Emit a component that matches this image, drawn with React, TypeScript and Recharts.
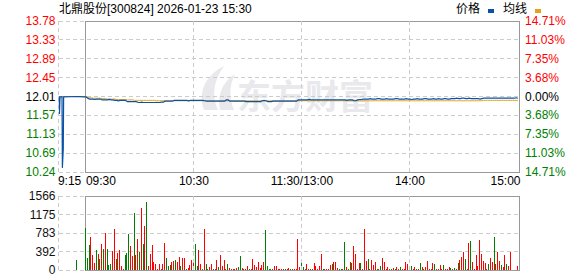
import React from 'react';
import { ComposedChart, Line, Bar, XAxis, YAxis, CartesianGrid, ReferenceArea, ReferenceLine } from 'recharts';

const TITLE = '北鼎股份[300824] 2026-01-23 15:30';
const LEGEND_PRICE = '价格';
const LEGEND_AVG = '均线';
const WATERMARK = '东方财富';
const PREV_CLOSE = 12.01;

const priceTicks = [10.243, 10.685, 11.127, 11.568, 12.01, 12.452, 12.893, 13.335, 13.777];
const priceTickLabels = ['10.24', '10.69', '11.13', '11.57', '12.01', '12.45', '12.89', '13.33', '13.78'];
const pctTickLabels = ['14.71%', '11.03%', '7.35%', '3.68%', '0.00%', '3.68%', '7.35%', '11.03%', '14.71%'];
const volTicks = [0, 391.5, 783, 1174.5, 1566];
const volTickLabels = ['0', '392', '783', '1175', '1566'];
const timeTicks = [-15, 0, 60, 120, 180, 240];
const timeTickLabels = ['9:15', '09:30', '10:30', '11:30/13:00', '14:00', '15:00'];
const gridTimes = [-15.25, 60, 120, 180];

// pre-market (call auction) points, minutes relative to 09:30
const preTimes = [-15, -14.7, -14.4, -13.3, -13.1, -12.6, -12.4, -5];
const prePrices = [12.01, 11.6, 12.0, 12.0, 10.34, 10.77, 12.0, 12.01];
const preAvg = [12.01, 12.01, 12.01, 12.01, 12.01, 12.01, 12.01, 12.01];
const preVolTimes = [-5];
const preVolumes = [218];
const preVolDir = ['g'];

// minute prices 09:30 .. 15:00 (241 points)
const price = [
  12.0, 11.97,
  11.95, 11.95, 11.95, 11.94, 11.95, 11.95, 11.95,
  11.93, 11.93, 11.93, 11.93, 11.94, 11.93, 11.93,
  11.92, 11.92, 11.91, 11.92, 11.92, 11.92, 11.92,
  11.89, 11.89, 11.89, 11.89, 11.89, 11.89,
  11.87, 11.87, 11.88, 11.87, 11.87, 11.87, 11.87, 11.87, 11.87, 11.87, 11.87, 11.87, 11.87, 11.88, 11.88,
  11.9, 11.9, 11.9, 11.9, 11.9,
  11.92, 11.92, 11.92, 11.92, 11.92, 11.92, 11.92, 11.92, 11.91, 11.92, 11.92, 11.92, 11.92, 11.92, 11.92, 11.92, 11.92, 11.91,
  11.9, 11.9, 11.9, 11.9, 11.9, 11.9, 11.9, 11.9, 11.9, 11.9, 11.9,
  11.93, 11.93,
  11.9, 11.9, 11.9, 11.9, 11.9, 11.9, 11.9, 11.9, 11.9,
  11.89, 11.89, 11.89, 11.89, 11.89, 11.89, 11.89, 11.89, 11.89,
  11.91, 11.92, 11.91,
  11.89, 11.89, 11.89,
  11.9, 11.9, 11.9, 11.9, 11.9, 11.9, 11.9, 11.9, 11.9, 11.9, 11.9, 11.9, 11.9,
  11.9, 11.93, 11.93, 11.93,
  11.93, 11.93, 11.93, 11.94, 11.93, 11.93, 11.93, 11.93, 11.93, 11.93, 11.93,
  11.93, 11.93, 11.93, 11.93, 11.93, 11.93, 11.93, 11.93, 11.93, 11.93, 11.93,
  11.93, 11.93, 11.92, 11.93, 11.93, 11.93,
  11.91, 11.91,
  11.93, 11.94, 11.94, 11.95, 11.95,
  11.95, 11.95, 11.96, 11.95, 11.95, 11.95, 11.96, 11.96, 11.95, 11.95,
  11.95, 11.96, 11.95, 11.95, 11.95, 11.95, 11.96, 11.96, 11.95, 11.95,
  11.95, 11.95, 11.96, 11.95, 11.95, 11.94, 11.95, 11.95, 11.96, 11.95,
  11.95, 11.95, 11.96, 11.96, 11.95, 11.95, 11.95, 11.96, 11.95, 11.95,
  11.96, 11.95, 11.95, 11.96, 11.96, 11.95, 11.95, 11.96, 11.96, 11.96,
  11.97, 11.96, 11.96, 11.97, 11.97, 11.96, 11.96, 11.97, 11.96, 11.96,
  11.96, 11.96, 11.96, 11.95, 11.96,
  11.97, 11.97, 11.97, 11.97, 11.97, 11.97, 11.97, 11.97, 11.97, 11.97,
  11.97, 11.97, 11.97, 11.97, 11.97, 11.97, 11.97, 11.97, 11.98, 11.97,
];

// average price line (241 points)
const avg = [
  12.0,
  11.99, 11.98, 11.98, 11.97, 11.97, 11.97, 11.97, 11.97,
  11.96, 11.96, 11.96, 11.95, 11.95, 11.95, 11.95, 11.95, 11.94, 11.94, 11.94, 11.94, 11.94, 11.94,
  11.93, 11.93, 11.93, 11.93, 11.92, 11.92, 11.92, 11.92, 11.92, 11.92, 11.92, 11.92, 11.92, 11.92, 11.92, 11.92,
  11.91, 11.91, 11.91, 11.91, 11.91, 11.91, 11.91, 11.91, 11.91, 11.91,
  11.91, 11.91, 11.91, 11.91, 11.91, 11.91, 11.91, 11.91, 11.91, 11.91,
  11.91, 11.91, 11.91, 11.91, 11.91, 11.91, 11.91, 11.91, 11.91, 11.91,
  11.91, 11.91, 11.91, 11.91, 11.91, 11.91, 11.91, 11.91, 11.91, 11.91,
  11.91, 11.91, 11.91, 11.91, 11.91, 11.91, 11.91, 11.91, 11.91, 11.91,
  11.91, 11.91, 11.91, 11.91, 11.91, 11.91, 11.91, 11.91, 11.91, 11.91,
  11.91, 11.91, 11.91, 11.91, 11.91, 11.91, 11.91, 11.91, 11.91, 11.91,
  11.91, 11.91, 11.91, 11.91, 11.91, 11.91, 11.91, 11.91, 11.91, 11.91,
  11.91, 11.91, 11.91, 11.91, 11.91, 11.91, 11.91, 11.91, 11.91, 11.91,
  11.91, 11.91, 11.91, 11.91, 11.91, 11.91, 11.91, 11.91, 11.91, 11.91,
  11.91, 11.91, 11.91, 11.91, 11.91, 11.91, 11.91, 11.91, 11.91, 11.91,
  11.91, 11.91, 11.91, 11.91, 11.91, 11.91, 11.91, 11.91, 11.91, 11.91,
  11.91, 11.91, 11.91, 11.91, 11.91, 11.91, 11.91, 11.91, 11.91, 11.91,
  11.91, 11.91, 11.91, 11.91, 11.91, 11.91, 11.91, 11.91, 11.91, 11.91,
  11.91, 11.91, 11.91, 11.91, 11.91, 11.91, 11.91, 11.91, 11.91, 11.91,
  11.91, 11.91, 11.91, 11.91, 11.91, 11.91, 11.91, 11.91, 11.91, 11.91,
  11.91, 11.91, 11.91, 11.91, 11.91, 11.91, 11.91, 11.91, 11.91, 11.91,
  11.91, 11.91, 11.91, 11.91, 11.91, 11.91, 11.91, 11.91, 11.91, 11.91,
  11.91, 11.91,
  11.92, 11.92, 11.92, 11.92, 11.92, 11.92, 11.92, 11.92, 11.92, 11.92,
  11.92, 11.92, 11.92, 11.92, 11.92, 11.92, 11.92, 11.92, 11.92, 11.92,
];

// minute volumes (241 points)
const volume = [
  895, 261, 536, 705, 324, 155, 430, 345, 240, 557,
  451, 790, 451, 99, 120, 409, 874, 240, 367, 430,
  92, 28, 324, 367, 768, 515, 303, 1213, 324, 663,
  388, 1318, 557, 938, 1445, 92, 345, 536, 176, 134,
  28, 134, 28, 134, 578, 261, 92, 113, 176, 197,
  218,
  176, 282, 92, 261, 261, 28, 49, 113, 218, 240,
  557, 92, 430, 134, 28, 874, 134, 28, 70, 134,
  28, 28, 218, 70, 324, 92, 218, 28, 134, 49,
  28, 28, 28, 49, 70, 303, 49, 28, 28, 92,
  28, 28, 240, 113, 70, 176, 49, 113, 176, 853,
  92, 28, 28, 28, 92, 92, 28, 28, 28, 28,
  28, 28, 49, 28, 28, 28,
  28,
  663, 70, 155, 70, 28, 134, 28, 28, 28, 155,
  92, 28, 92, 345, 28, 28, 28, 28, 113, 134,
  176, 176, 49, 28, 28, 28, 599, 70, 28, 176,
  155, 515, 345, 28, 155, 155, 28, 874, 197, 240,
  28, 218, 113, 176, 28, 28, 92, 261, 176, 28,
  70, 28, 28, 49, 28, 70, 28, 70, 28, 28,
  176, 134, 70, 92, 28, 70,
  28,
  28, 155, 70, 28, 70, 197, 28, 28, 155, 134,
  28, 28, 113, 28, 113, 28, 28, 70, 49, 28,
  49, 28, 155, 218, 282, 388, 240, 28, 578, 620,
  176, 28, 324, 92, 642, 345, 197, 155, 28, 134,
  261, 176, 705, 134, 388, 197, 113, 70, 324, 134,
  92, 388,
  0, 0, 0,
  92,
];

// r = up minute (red), g = down minute (green)
const volDir = [
  'g', 'g', 'g', 'r', 'r', 'r', 'g', 'r', 'g', 'r',
  'g', 'r', 'g', 'g', 'g', 'r', 'r', 'g', 'r', 'r',
  'r', 'r', 'g', 'g', 'g', 'r', 'r', 'g', 'r', 'r',
  'g', 'r', 'g', 'r', 'g', 'r', 'r', 'r', 'r', 'r',
  'r', 'r', 'r', 'r', 'r', 'g', 'g', 'g', 'r', 'r',
  'g',
  'r', 'r', 'g', 'r', 'r', 'g', 'r', 'r', 'r', 'r',
  'g', 'g', 'r', 'r', 'g', 'r', 'g', 'g', 'r', 'r',
  'g', 'r', 'r', 'g', 'r', 'r', 'r', 'r', 'g', 'r',
  'r', 'r', 'r', 'r', 'g', 'g', 'r', 'g', 'r', 'r',
  'g', 'r', 'r', 'r', 'r', 'r', 'r', 'r', 'r', 'g',
  'g', 'g', 'g', 'r', 'r', 'r', 'r', 'r', 'r', 'r',
  'g', 'r', 'r', 'g', 'r', 'r',
  'r',
  'r', 'r', 'g', 'g', 'r', 'r', 'r', 'g', 'r', 'r',
  'r', 'r', 'r', 'r', 'g', 'r', 'r', 'r', 'r', 'g',
  'r', 'r', 'r', 'g', 'g', 'r', 'g', 'r', 'g', 'r',
  'g', 'r', 'r', 'r', 'r', 'g', 'r', 'r', 'r', 'g',
  'r', 'r', 'r', 'r', 'g', 'r', 'g', 'r', 'r', 'r',
  'r', 'r', 'g', 'r', 'g', 'r', 'r', 'g', 'r', 'r',
  'r', 'r', 'g', 'g', 'r', 'r',
  'g',
  'r', 'g', 'r', 'g', 'r', 'r', 'r', 'r', 'r', 'g',
  'r', 'r', 'r', 'r', 'g', 'r', 'r', 'r', 'g', 'r',
  'g', 'r', 'g', 'r', 'r', 'r', 'g', 'r', 'r', 'g',
  'r', 'r', 'r', 'r', 'r', 'r', 'r', 'r', 'r', 'g',
  'r', 'r', 'g', 'r', 'r', 'r', 'g', 'r', 'r', 'g',
  'r', 'r',
  'r', 'r', 'r',
  'r',
];

const FONT = '"Liberation Sans", Arial, "Noto Sans CJK SC", sans-serif';
const CJK_FONT = '"Noto Sans CJK SC", "Liberation Sans", sans-serif';
const RED = '#ff0000';
const GREEN = '#008000';
const BLACK = '#000000';
const PRICE_COLOR = '#0a52a6';
const AVG_COLOR = '#e3a21a';
const GRID = '#cccccc';
const BORDER = '#999999';

const levelColor = (v: number) =>
  Math.abs(v - PREV_CLOSE) < 0.005 ? BLACK : v > PREV_CLOSE ? RED : GREEN;

const PriceTick = (props: any) => {
  const { y, payload } = props;
  const i = priceTicks.indexOf(payload.value);
  const c = levelColor(payload.value);
  return (
    <g>
      <text x={55.5} y={y} textAnchor="end" dominantBaseline="central" fill={c} fontSize={12} fontFamily={FONT}>
        {priceTickLabels[i]}
      </text>
      <text x={525} y={y} textAnchor="start" dominantBaseline="central" fill={c} fontSize={12} fontFamily={FONT}>
        {pctTickLabels[i]}
      </text>
    </g>
  );
};

const VolTick = (props: any) => {
  const { y, payload } = props;
  const i = volTicks.indexOf(payload.value);
  return (
    <text x={55.5} y={y} textAnchor="end" dominantBaseline="central" fill="#111" fontSize={12} fontFamily={FONT}>
      {volTickLabels[i]}
    </text>
  );
};

const TimeTick = (props: any) => {
  const { x, payload } = props;
  const i = timeTicks.indexOf(payload.value);
  let anchor: any = 'middle';
  let tx = x;
  if (i === 0) { anchor = 'start'; tx = x - 1; }
  else if (i === 1) { anchor = 'start'; }
  else if (i === timeTicks.length - 1) { anchor = 'end'; tx = x + 2.6; }
  return (
    <text x={tx} y={181} textAnchor={anchor} dominantBaseline="central" fill="#000" fontSize={12} fontFamily={FONT}>
      {timeTickLabels[i]}
    </text>
  );
};

const VolBar = (props: any) => {
  const { x, y, width, height, payload } = props;
  if (!height || height <= 0) return null;
  const cx = Math.round(x + width / 2 - 0.5);
  return (
    <rect x={cx} y={y} width={1} height={height} fill={payload.d === 'r' ? RED : GREEN} shapeRendering="crispEdges" />
  );
};

export default function App() {
  const priceData = [
    ...preTimes.map((t, i) => ({ t, p: prePrices[i], a: preAvg[i] })),
    ...price.map((p, i) => ({ t: i, p, a: avg[i] })),
  ];
  const volData = [
    ...preVolTimes.map((t, i) => ({ t, v: preVolumes[i], d: preVolDir[i] })),
    ...volume.map((v, i) => ({ t: i, v, d: volDir[i] })),
  ];
  const xDomain: [number, number] = [-15.25, 241];

  return (
    <div style={{ position: 'absolute', left: 0, top: 0, width: 578, height: 276, background: '#fff', overflow: 'hidden' }}>
      {/* watermark */}
      <svg width={578} height={276} style={{ position: 'absolute', left: 0, top: 0 }}>
        <path d="M204,110 C198,94 204,76 224,66 C214,80 211,95 218,110 Z" fill="#e8e8ed" />
        <path d="M220,110 C217,96 222,82 235,74 C229,86 229,98 234,110 Z" fill="#e8e8ed" />
        <text x={237} y={109} fontSize={34} fontWeight="bold" fill="#e8e8ed" fontFamily={CJK_FONT}>
          {WATERMARK}
        </text>
      </svg>

      <div style={{ position: 'absolute', left: 0, top: 0 }}>
        <ComposedChart width={578} height={190} data={priceData} margin={{ top: 21, right: 58.3, bottom: 0, left: 0 }}>
          <CartesianGrid vertical={false} stroke={GRID} strokeDasharray="4 3" shapeRendering="crispEdges" />
          {gridTimes.map((t) => (
            <ReferenceLine key={t} x={t} stroke={GRID} strokeDasharray="4 3" shapeRendering="crispEdges" />
          ))}
          <XAxis
            type="number"
            dataKey="t"
            domain={xDomain}
            ticks={timeTicks}
            tick={<TimeTick />}
            axisLine={false}
            tickLine={false}
            height={18}
            interval={0}
            allowDataOverflow
          />
          <YAxis
            type="number"
            domain={[priceTicks[0], priceTicks[priceTicks.length - 1]]}
            ticks={priceTicks}
            tick={<PriceTick />}
            axisLine={false}
            tickLine={false}
            width={58.5}
            interval={0}
            allowDataOverflow
          />
          <ReferenceArea
            x1={0}
            x2={241}
            y1={priceTicks[0]}
            y2={priceTicks[priceTicks.length - 1]}
            fill="none"
            fillOpacity={0}
            stroke={BORDER}
            strokeWidth={1}
            shapeRendering="crispEdges"
          />
          <Line type="linear" dataKey="a" stroke={AVG_COLOR} strokeWidth={1} dot={false} activeDot={false} isAnimationActive={false} />
          <Line type="linear" dataKey="p" stroke={PRICE_COLOR} strokeWidth={1.2} dot={false} activeDot={false} isAnimationActive={false} />
        </ComposedChart>
      </div>

      <div style={{ position: 'absolute', left: 0, top: 190 }}>
        <ComposedChart width={578} height={86} data={volData} margin={{ top: 6, right: 58.3, bottom: 6, left: 0 }}>
          <CartesianGrid vertical={false} stroke={GRID} strokeDasharray="4 3" shapeRendering="crispEdges" />
          {gridTimes.map((t) => (
            <ReferenceLine key={t} x={t} stroke={GRID} strokeDasharray="4 3" shapeRendering="crispEdges" />
          ))}
          <XAxis type="number" dataKey="t" domain={xDomain} hide allowDataOverflow />
          <YAxis
            type="number"
            domain={[0, 1566]}
            ticks={volTicks}
            tick={<VolTick />}
            axisLine={false}
            tickLine={false}
            width={58.5}
            interval={0}
            allowDataOverflow
          />
          <Bar dataKey="v" barSize={1} shape={<VolBar />} isAnimationActive={false} />
          <ReferenceArea
            x1={0}
            x2={241}
            y1={0}
            y2={1566}
            fill="none"
            fillOpacity={0}
            stroke={BORDER}
            strokeWidth={1}
            shapeRendering="crispEdges"
          />
        </ComposedChart>
      </div>

      {/* title & legend */}
      <svg width={578} height={20} style={{ position: 'absolute', left: 0, top: 0 }}>
        <text x={59} y={13} fontSize={12} fill="#000" fontFamily={FONT}>{TITLE}</text>
        <text x={456} y={13} fontSize={12} fill="#000" fontFamily={FONT}>{LEGEND_PRICE}</text>
        <rect x={488} y={9} width={6} height={4} fill={PRICE_COLOR} />
        <text x={503} y={13} fontSize={12} fill="#000" fontFamily={FONT}>{LEGEND_AVG}</text>
        <rect x={535} y={9} width={6} height={4} fill={AVG_COLOR} />
      </svg>
    </div>
  );
}
